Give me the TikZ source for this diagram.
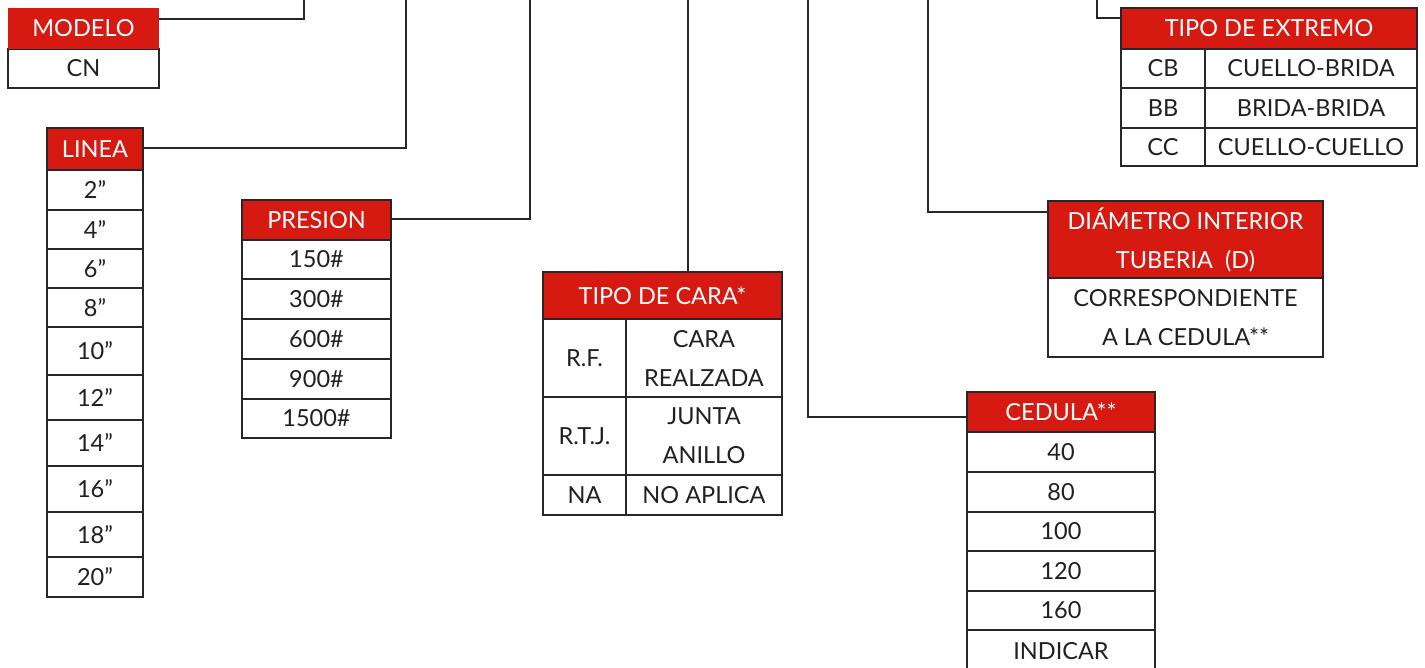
\documentclass[tikz,border=0pt]{standalone}
\usepackage{fontspec}
\setmainfont{Lato}
\definecolor{hdrred}{RGB}{214,26,18}
\definecolor{edge}{RGB}{40,38,38}
\definecolor{ink}{RGB}{35,31,32}
\newcommand\mkcell[7]{%
  \node[#6, minimum width={(#4-#2)*1pt}, minimum height={(#5-#3)*1pt}] (#1) at ({(#2+#4)/2},{-(#3+#5)/2}) {#7};}
\begin{document}
\begin{tikzpicture}[x=1pt,y=1pt,
  every node/.style={inner sep=0pt, outer sep=0pt, align=center,
    font=\fontsize{23.5}{39}\selectfont},
  hdr/.style={fill=hdrred, draw=edge, line width=2.6pt, text=white},
  hdrplain/.style={fill=hdrred, text=white},
  body/.style={fill=white, draw=edge, line width=2.6pt, text=ink},
  link/.style={draw=edge, line width=2.6pt}]
\useasboundingbox (0,0) rectangle (1425,-667);
\clip (0,0) rectangle (1425,-667);
% top coordinates
\coordinate (t1) at (304,0);
\coordinate (t2) at (406,0);
\coordinate (t3) at (530,0);
\coordinate (t4) at (688,0);
\coordinate (t5) at (808,0);
\coordinate (t6) at (928,0);
\coordinate (t7) at (1097,0);
% MODELO
\mkcell{cn}{8}{49}{159}{88}{body}{CN}
\mkcell{hmodelo}{8}{8}{159}{49}{hdrplain}{MODELO}
% LINEA
\mkcell{l1}{47}{170}{143}{210}{body}{2”}
\mkcell{l2}{47}{210}{143}{249}{body}{4”}
\mkcell{l3}{47}{249}{143}{288}{body}{6”}
\mkcell{l4}{47}{288}{143}{327}{body}{8”}
\mkcell{l5}{47}{327}{143}{375}{body}{10”}
\mkcell{l6}{47}{375}{143}{420}{body}{12”}
\mkcell{l7}{47}{420}{143}{466}{body}{14”}
\mkcell{l8}{47}{466}{143}{512}{body}{16”}
\mkcell{l9}{47}{512}{143}{557}{body}{18”}
\mkcell{l10}{47}{557}{143}{597}{body}{20”}
\mkcell{hlinea}{47}{128}{143}{170}{hdr}{LINEA}
% PRESION
\mkcell{p1}{242}{240}{391}{279}{body}{150\#}
\mkcell{p2}{242}{279}{391}{319}{body}{300\#}
\mkcell{p3}{242}{319}{391}{359}{body}{600\#}
\mkcell{p4}{242}{359}{391}{399}{body}{900\#}
\mkcell{p5}{242}{399}{391}{438}{body}{1500\#}
\mkcell{hpresion}{242}{200}{391}{240}{hdr}{PRESION}
% TIPO DE CARA
\mkcell{c1a}{543}{319}{626}{397}{body}{R.F.}
\mkcell{c1b}{626}{319}{782}{397}{body}{CARA\\REALZADA}
\mkcell{c2a}{543}{397}{626}{475}{body}{R.T.J.}
\mkcell{c2b}{626}{397}{782}{475}{body}{JUNTA\\ANILLO}
\mkcell{c3a}{543}{475}{626}{515}{body}{NA}
\mkcell{c3b}{626}{475}{782}{515}{body}{NO APLICA}
\mkcell{hcara}{543}{272}{782}{319}{hdr}{TIPO DE CARA*}
% CEDULA
\mkcell{e1}{967}{432}{1155}{472}{body}{40}
\mkcell{e2}{967}{472}{1155}{512}{body}{80}
\mkcell{e3}{967}{512}{1155}{551}{body}{100}
\mkcell{e4}{967}{551}{1155}{591}{body}{120}
\mkcell{e5}{967}{591}{1155}{630}{body}{160}
\mkcell{e6}{967}{630}{1155}{672}{body}{INDICAR}
\mkcell{hcedula}{967}{392}{1155}{432}{hdr}{CEDULA**}
% DIAMETRO
\mkcell{d1}{1048}{278}{1323}{357}{body}{CORRESPONDIENTE\\A LA CEDULA**}
\mkcell{hdiam}{1048}{201}{1323}{278}{hdr}{DIÁMETRO INTERIOR\\TUBERIA~~(D)}
% TIPO DE EXTREMO
\mkcell{x1a}{1121}{49}{1205}{88}{body}{CB}
\mkcell{x1b}{1205}{49}{1417}{88}{body}{CUELLO-BRIDA}
\mkcell{x2a}{1121}{88}{1205}{128}{body}{BB}
\mkcell{x2b}{1205}{88}{1417}{128}{body}{BRIDA-BRIDA}
\mkcell{x3a}{1121}{128}{1205}{166}{body}{CC}
\mkcell{x3b}{1205}{128}{1417}{166}{body}{CUELLO-CUELLO}
\mkcell{hextremo}{1121}{8}{1417}{49}{hdr}{TIPO DE EXTREMO}
% connectors
\draw[link] ([yshift=9.5pt]hmodelo.east) -| (t1);
\draw[link] ([yshift=1pt]hlinea.east) -| (t2);
\draw[link] ([yshift=1pt]hpresion.east) -| (t3);
\draw[link] (hcara.north -| t4) -- (t4);
\draw[link] ([yshift=-5pt]hcedula.west) -| (t5);
\draw[link] ([yshift=27.5pt]hdiam.west) -| (t6);
\draw[link] ([yshift=10.5pt]hextremo.west) -| (t7);
\end{tikzpicture}
\end{document}
